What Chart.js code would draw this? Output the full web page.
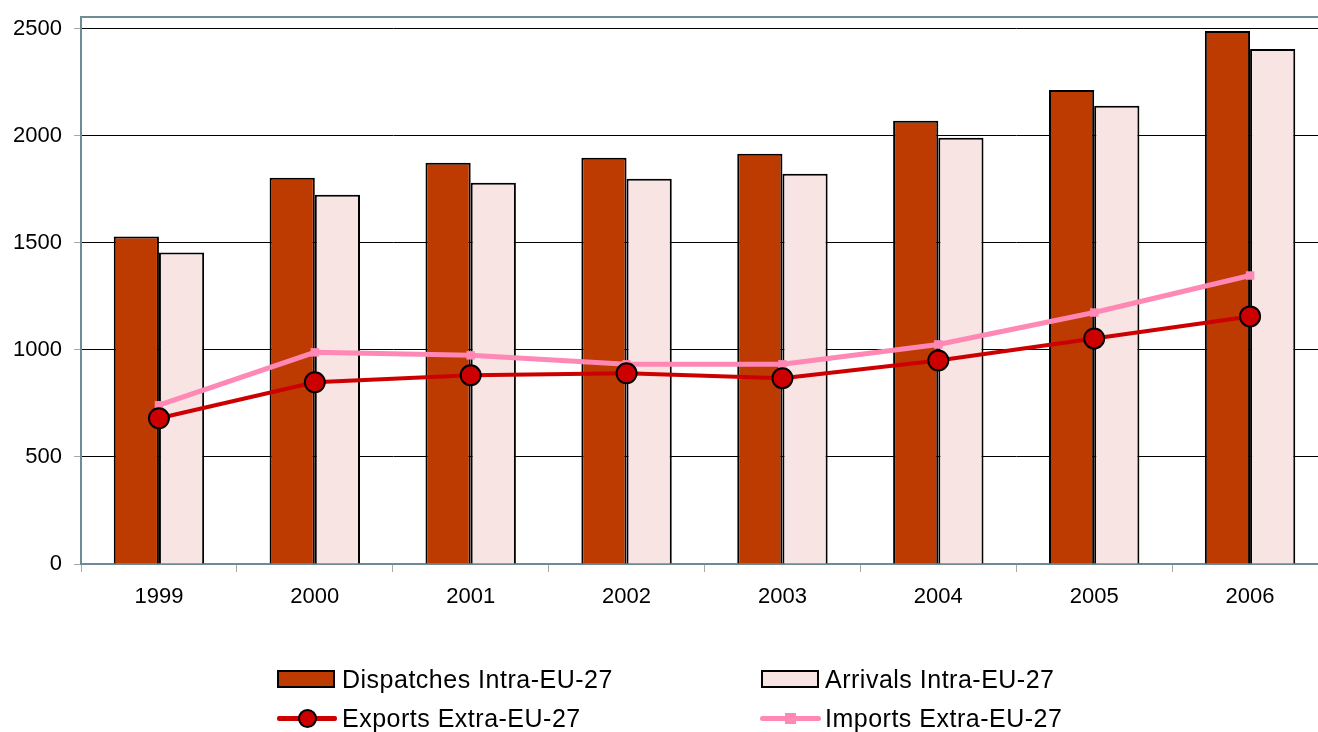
<!DOCTYPE html>
<html>
<head>
<meta charset="utf-8">
<script src="https://cdn.jsdelivr.net/npm/chart.js@4"></script>
<style>
  html, body { margin: 0; padding: 0; background: #fff; overflow: hidden; width: 1318px; height: 732px; }
  #wrap { position: absolute; left: 0; top: 0; width: 1340px; height: 732px; }
  .leg { position: absolute; font-family: "Liberation Sans", Arial, sans-serif; font-size: 25px; letter-spacing: 0.5px; color: #000; line-height: 28px; white-space: nowrap; }
  .box { position: absolute; width: 54px; height: 14px; border: 2px solid #000; }
  .ln { position: absolute; height: 5px; }
  .mk { position: absolute; }
</style>
</head>
<body>
<div id="wrap"><canvas id="c" width="1340" height="732"></canvas></div>
<div id="legend"></div>
<script>
const categories = ["1999", "2000", "2001", "2002", "2003", "2004", "2005", "2006"];
const dispatchesIntra = [1530, 1805, 1875, 1898, 1917, 2071, 2215, 2491];
const arrivalsIntra = [1455, 1726, 1782, 1800, 1824, 1992, 2141, 2407];
const exportsExtra = [681, 849, 882, 891, 868, 951, 1054, 1157];
const importsExtra = [742, 989, 975, 933, 933, 1026, 1175, 1348];
const yTicks = [0, 500, 1000, 1500, 2000, 2500];
const seriesNames = ["Dispatches Intra-EU-27", "Arrivals Intra-EU-27", "Exports Extra-EU-27", "Imports Extra-EU-27"];

const FONT = "'Liberation Sans', Arial, sans-serif";
const FRAME = "#6E8C94";

const framePlugin = {
  id: 'frame',
  afterDraw(chart) {
    const { ctx, chartArea: a } = chart;
    ctx.save();
    ctx.strokeStyle = FRAME;
    ctx.lineWidth = 2;
    ctx.beginPath();
    ctx.moveTo(a.left, a.top);
    ctx.lineTo(a.right, a.top);
    ctx.lineTo(a.right, a.bottom);
    ctx.stroke();
    ctx.restore();
  }
};

new Chart(document.getElementById('c'), {
  type: 'bar',
  data: {
    labels: categories,
    datasets: [
      {
        type: 'line', label: seriesNames[2], data: exportsExtra, order: 0,
        borderColor: '#CC0000', borderWidth: 4, tension: 0,
        pointStyle: 'circle', pointRadius: 10, pointBackgroundColor: '#CC0000',
        pointBorderColor: '#000', pointBorderWidth: 2
      },
      {
        type: 'line', label: seriesNames[3], data: importsExtra, order: 1,
        borderColor: '#FF88B4', borderWidth: 5, tension: 0,
        pointStyle: 'rect', pointRadius: 6, pointBackgroundColor: '#FF88B4',
        pointBorderColor: '#FF88B4', pointBorderWidth: 0
      },
      {
        label: seriesNames[0], data: dispatchesIntra, order: 2,
        backgroundColor: '#BD3A00', borderColor: '#000', borderWidth: 2,
        barPercentage: 1, categoryPercentage: 0.58
      },
      {
        label: seriesNames[1], data: arrivalsIntra, order: 3,
        backgroundColor: '#F8E4E2', borderColor: '#000', borderWidth: 2,
        barPercentage: 1, categoryPercentage: 0.58
      }
    ]
  },
  options: {
    responsive: false,
    animation: false,
    layout: { padding: { left: 0, top: 17, right: 8, bottom: 0 } },
    plugins: { legend: { display: false }, tooltip: { enabled: false } },
    scales: {
      x: {
        offset: true,
        afterFit(s) { s.height = 732 - 564; },
        grid: { offset: true, drawOnChartArea: false, tickLength: 8, tickColor: '#A8A8A8', lineWidth: 1 },
        border: { display: true, color: FRAME, width: 2 },
        ticks: { color: '#000', padding: 12, font: { family: FONT, size: 22 } }
      },
      y: {
        min: 0, max: 2556,
        afterFit(s) { s.width = 81; },
        afterBuildTicks(s) { s.ticks = yTicks.map(v => ({ value: v })); },
        grid: {
          color: (c) => (c.tick && c.tick.value === 0) ? 'rgba(0,0,0,0)' : '#000',
          tickColor: '#A8A8A8', tickLength: 7, lineWidth: 1
        },
        border: { display: true, color: FRAME, width: 2 },
        ticks: { color: '#000', padding: 12, font: { family: FONT, size: 22, lineHeight: 0.3 }, callback: (v) => String(v) }
      }
    }
  },
  plugins: [framePlugin]
});

// HTML legend in 2x2 grid
const L = document.getElementById('legend');
function item(x, y, html, text) {
  const d = document.createElement('div');
  d.innerHTML = html;
  L.appendChild(d);
  const t = document.createElement('div');
  t.className = 'leg';
  t.style.left = (x + 65) + 'px';
  t.style.top = (y - 14) + 'px';
  t.textContent = text;
  L.appendChild(t);
}
item(277, 679, '<div class="box" style="left:277px;top:670px;background:#BD3A00"></div>', seriesNames[0]);
item(760, 679, '<div class="box" style="left:761px;top:670px;background:#F8E4E2"></div>', seriesNames[1]);
item(277, 718,
  '<div class="ln" style="left:277px;top:716px;width:60px;background:#CC0000;border-radius:2px"></div>' +
  '<div class="mk" style="left:298px;top:709px;width:15px;height:15px;border-radius:50%;background:#CC0000;border:2px solid #000"></div>',
  seriesNames[2]);
item(760, 718,
  '<div class="ln" style="left:760px;top:716px;width:61px;background:#FF88B4;border-radius:3px"></div>' +
  '<div class="mk" style="left:785px;top:713px;width:11px;height:11px;background:#FF88B4"></div>',
  seriesNames[3]);
</script>
</body>
</html>
